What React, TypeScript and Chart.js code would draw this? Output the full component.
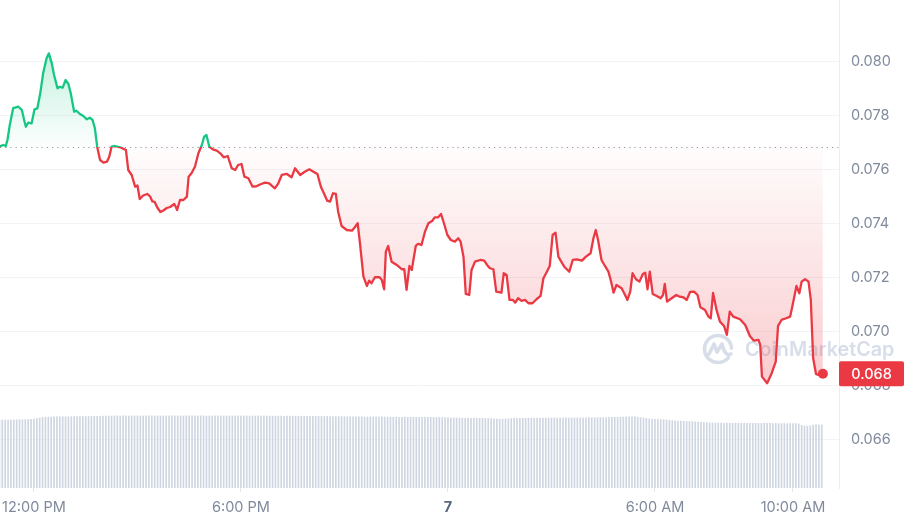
import React, { useEffect, useRef } from 'react';
import { Chart, registerables } from 'chart.js';

Chart.register(...registerables);

// Minutes since 11:00 AM (day 6) for each price sample
const P_MIN = [
  0, 7, 11, 14, 18, 24, 33, 39, 43, 46, 50, 56, 61, 66, 71, 76, 82, 86, 91, 95,
  101, 105, 110, 115, 120, 124, 130, 134, 140, 146, 152, 157, 162, 166, 170, 175, 181, 187, 191, 195,
  201, 210, 220, 224, 230, 236, 240, 244, 250, 257, 262, 266, 270, 275, 280, 285, 291, 297, 304, 307,
  309, 314, 320, 326, 329, 334, 340, 346, 352, 356, 360, 365, 371, 378, 384, 390, 397, 404, 410, 415,
  421, 426, 433, 440, 447, 453, 462, 469, 479, 485, 491, 500, 508, 514, 523, 531, 539, 546, 553, 559,
  563, 570, 575, 580, 585, 589, 595, 604, 613, 618, 623, 627, 633, 639, 643, 647, 653, 661, 665, 669,
  672, 676, 682, 691, 700, 704, 708, 713, 717, 724, 728, 734, 740, 746, 753, 757, 763, 768, 773, 779,
  785, 792, 798, 802, 807, 811, 817, 821, 827, 836, 843, 848, 853, 859, 864, 873, 877, 882, 887, 893,
  897, 902, 908, 914, 920, 927, 934, 941, 946, 952, 957, 962, 967, 972, 978, 983, 991, 997, 1004, 1013,
  1020, 1028, 1033, 1037, 1041, 1047, 1053, 1059, 1063, 1068, 1073, 1082, 1088, 1092, 1097, 1101, 1107, 1113, 1119, 1123,
  1127, 1131, 1136, 1143, 1150, 1154, 1157, 1161, 1169, 1177, 1183, 1189, 1195, 1201, 1208, 1214, 1219, 1227, 1233, 1237,
  1241, 1247, 1253, 1260, 1265, 1270, 1276, 1288, 1297, 1305, 1312, 1320, 1323, 1326, 1335, 1343, 1350, 1354, 1360, 1368,
  1375, 1379, 1386, 1391, 1395, 1401, 1407, 1411, 1415, 1420, 1424, 1432,
];

const PRICE = [
  0.07685, 0.076908, 0.076871, 0.077093, 0.077648, 0.078278, 0.078326, 0.078204, 0.077834, 0.077585,
  0.077734, 0.077711, 0.07823, 0.078267, 0.078822, 0.079563, 0.080119, 0.080304, 0.079934, 0.0795,
  0.079008, 0.079067, 0.07903, 0.079315, 0.079167, 0.078822, 0.078141, 0.078178, 0.078056, 0.077982,
  0.077859, 0.077919, 0.077834, 0.077526, 0.076845, 0.076352, 0.076252, 0.076289, 0.076474, 0.076845,
  0.076871, 0.076822, 0.076722, 0.075982, 0.075797, 0.075363, 0.075408, 0.074908, 0.075037, 0.075093,
  0.075, 0.074815, 0.074797, 0.074574, 0.074426, 0.074482, 0.074574, 0.074611, 0.074722, 0.0746,
  0.0745, 0.074871, 0.074871, 0.074993, 0.075734, 0.075859, 0.076104, 0.0766, 0.076908, 0.077215,
  0.077278, 0.076845, 0.076748, 0.076697, 0.0766, 0.076452, 0.0765, 0.076045, 0.075982, 0.076167,
  0.076204, 0.075734, 0.075674, 0.075371, 0.075378, 0.075445, 0.075511, 0.075489, 0.075304, 0.075489,
  0.075797, 0.075834, 0.075711, 0.076045, 0.075797, 0.075919, 0.076008, 0.075919, 0.075834, 0.075363,
  0.075178, 0.074845, 0.074808, 0.075119, 0.075093, 0.074437, 0.073908, 0.073759, 0.073734, 0.073859,
  0.074008, 0.073267, 0.07203, 0.071685, 0.071882, 0.071785, 0.072008, 0.072008, 0.071908, 0.071563,
  0.072956, 0.073167, 0.072585, 0.072463, 0.072304, 0.072304, 0.071537, 0.072426, 0.072278, 0.073167,
  0.073241, 0.073204, 0.073697, 0.074008, 0.074104, 0.07423, 0.07423, 0.074352, 0.074008, 0.073574,
  0.073389, 0.073326, 0.073452, 0.073326, 0.072771, 0.071389, 0.071352, 0.072278, 0.072585, 0.072648,
  0.072622, 0.072463, 0.072341, 0.072304, 0.071474, 0.071437, 0.072156, 0.072093, 0.071167, 0.071167,
  0.071067, 0.07123, 0.07113, 0.071167, 0.071045, 0.071045, 0.071193, 0.071315, 0.071971, 0.072215,
  0.072426, 0.073574, 0.073659, 0.072771, 0.072548, 0.072378, 0.072215, 0.072648, 0.072674, 0.072622,
  0.072771, 0.072897, 0.073452, 0.073759, 0.073389, 0.072648, 0.072426, 0.072215, 0.071908, 0.071437,
  0.071722, 0.0716, 0.071352, 0.071167, 0.071474, 0.072156, 0.071934, 0.071845, 0.07213, 0.072178,
  0.071563, 0.072215, 0.071389, 0.071315, 0.07123, 0.071352, 0.071759, 0.071104, 0.07123, 0.071352,
  0.071289, 0.071267, 0.071167, 0.071463, 0.071474, 0.071352, 0.070897, 0.070797, 0.070548, 0.070489,
  0.071426, 0.070797, 0.070363, 0.070204, 0.069871, 0.070734, 0.070548, 0.070452, 0.070241, 0.069834,
  0.069659, 0.069685, 0.0695, 0.068326, 0.068082, 0.068452, 0.068882, 0.070204, 0.070426, 0.070489,
  0.070548, 0.070945, 0.071685, 0.071415, 0.071845, 0.071934, 0.071845, 0.071167, 0.069019, 0.068426,
  0.068389, 0.068434,
];

// 5-minute volume bars (millions), starting at 11:00 AM
const VOL_STEP_MIN = 5;
const VOLUME = [
  4.73, 4.74, 4.73, 4.74, 4.75, 4.74, 4.75, 4.76, 4.75, 4.76, 4.77, 4.78, 4.8, 4.84, 4.88,
  4.92, 4.94, 4.95, 4.95, 4.96, 4.95, 4.96, 4.97, 4.96, 4.97, 4.97, 4.98, 4.97, 4.98, 4.98, 4.99, 4.98, 4.99, 5.0, 4.99,
  5.0, 5.01, 5.01, 5.02, 5.01, 5.02, 5.02, 5.01, 5.02, 5.03,
  5.02, 5.02, 5.03, 5.02, 5.01, 5.02, 5.02, 5.03, 5.03, 5.02,
  5.02, 5.01, 5.02, 5.02, 5.03, 5.02, 5.02, 5.02, 5.01, 5.02,
  5.03, 5.03, 5.02, 5.02, 5.02, 5.03, 5.02, 5.01, 5.02, 5.02,
  5.02, 5.03, 5.02, 5.02, 5.02, 5.01, 5.02, 5.02, 5.03, 5.02,
  5.02, 5.02, 5.01, 5.01, 5.02, 5.02, 5.01, 5.02, 5.01, 5.01,
  5.01, 5.0, 5.01, 5.01, 5.0, 5.01, 5.0, 5.0, 5.01, 5.0,
  5.0, 4.99, 5.0, 4.99, 4.99, 5.0, 4.99, 4.99, 4.98, 4.99,
  4.98,
  4.98, 4.97, 4.97, 4.98, 4.97, 4.96, 4.97, 4.96, 4.96, 4.95, 4.96, 4.95, 4.95, 4.96, 4.95, 4.95, 4.94, 4.95, 4.94, 4.94,
  4.94, 4.93, 4.94, 4.93, 4.93, 4.94, 4.93, 4.92, 4.93, 4.93, 4.92, 4.93, 4.92, 4.92, 4.93, 4.92, 4.91, 4.92, 4.91, 4.91, 4.9,
  4.89, 4.88, 4.88, 4.87, 4.87, 4.86, 4.87, 4.86, 4.86, 4.85, 4.86, 4.86, 4.85, 4.84, 4.83, 4.82, 4.81, 4.8, 4.8, 4.81,
  4.82, 4.84, 4.85, 4.86, 4.86, 4.87, 4.86, 4.87, 4.87, 4.86, 4.87, 4.87, 4.88, 4.87, 4.87, 4.88, 4.88, 4.87, 4.88, 4.88,
  4.89, 4.88, 4.88, 4.89, 4.89, 4.88, 4.89, 4.89, 4.9, 4.89, 4.9, 4.9, 4.91, 4.9, 4.91, 4.92, 4.92, 4.93, 4.93, 4.94, 4.94,
  4.95, 4.96, 4.96, 4.95, 4.93,
  4.9, 4.87, 4.84, 4.82, 4.8, 4.79, 4.78, 4.77, 4.76, 4.74, 4.72,
  4.7, 4.68, 4.67, 4.66, 4.65, 4.64, 4.63, 4.62, 4.61, 4.6,
  4.58, 4.56, 4.55, 4.54, 4.53, 4.53, 4.52, 4.52, 4.51, 4.52, 4.51, 4.51, 4.52, 4.51, 4.51, 4.5, 4.51, 4.51, 4.5, 4.51,
  4.5, 4.5, 4.51, 4.5, 4.5, 4.49, 4.5, 4.49, 4.49,
  4.49, 4.48, 4.49, 4.48, 4.48, 4.47,
  4.36, 4.32, 4.31, 4.33,
  4.39, 4.4, 4.38, 4.39,
];

const Y_TICKS = [0.066, 0.068, 0.07, 0.072, 0.074, 0.076, 0.078, 0.08];
const X_TICKS = [60, 420, 780, 1140, 1380];
const X_LABELS = ['12:00 PM', '6:00 PM', '7', '6:00 AM', '10:00 AM'];

const BASE = PRICE[0];
const GREEN = '#16c784';
const RED = '#ea3943';
const FONT = 'Inter, "Noto Sans", sans-serif';

const decorPlugin = {
  id: 'decor',
  beforeDatasetsDraw(chart: any) {
    const { ctx, chartArea, scales } = chart;
    // watermark
    ctx.save();
    const cx = chartArea.right - 121;
    const cy = chartArea.bottom - 139;
    ctx.strokeStyle = 'rgba(160,176,202,0.42)';
    ctx.lineWidth = 3.6;
    ctx.lineCap = 'round';
    ctx.lineJoin = 'round';
    ctx.beginPath();
    ctx.arc(cx, cy, 13.5, 0.22 * Math.PI, 1.98 * Math.PI, false);
    ctx.stroke();
    ctx.beginPath();
    ctx.moveTo(cx - 9, cy + 5);
    ctx.lineTo(cx - 4, cy - 5);
    ctx.lineTo(cx - 1, cy + 3);
    ctx.lineTo(cx + 4, cy - 5);
    ctx.quadraticCurveTo(cx + 7, cy + 8, cx + 13, cy + 5);
    ctx.stroke();
    ctx.fillStyle = 'rgba(160,176,202,0.42)';
    ctx.font = '600 19.8px ' + FONT;
    ctx.textAlign = 'left';
    ctx.textBaseline = 'middle';
    ctx.fillText('CoinMarketCap', cx + 27, cy + 1.5);
    ctx.restore();

    // dotted baseline (24h open)
    const y = Math.round(scales.y.getPixelForValue(BASE)) + 0.5;
    ctx.save();
    ctx.beginPath();
    ctx.setLineDash([1.2, 4]);
    ctx.strokeStyle = '#8f98ab';
    ctx.lineWidth = 1.2;
    ctx.moveTo(chartArea.left, y);
    ctx.lineTo(chartArea.right, y);
    ctx.stroke();
    ctx.restore();
  },
  afterDraw(chart: any) {
    const { ctx, chartArea } = chart;
    const meta = chart.getDatasetMeta(0);
    const pt = meta.data[meta.data.length - 1];
    if (!pt) return;
    const h = 25;
    const x0 = chartArea.right;
    const w = chart.width - x0;
    ctx.save();
    ctx.fillStyle = RED;
    ctx.beginPath();
    ctx.roundRect(x0, pt.y - h / 2, w, h, 2);
    ctx.fill();
    ctx.fillStyle = '#ffffff';
    ctx.font = '500 14.5px ' + FONT;
    ctx.textAlign = 'center';
    ctx.textBaseline = 'middle';
    ctx.fillText(PRICE[PRICE.length - 1].toFixed(3), x0 + w / 2, pt.y + 1);
    ctx.restore();
  },
};

export default function App() {
  const ref = useRef<HTMLCanvasElement | null>(null);

  useEffect(() => {
    const canvas = ref.current;
    if (!canvas) return;
    const last = PRICE.length - 1;
    const chart = new Chart(canvas, {
      type: 'line',
      data: {
        datasets: [
          {
            type: 'line',
            data: P_MIN.map((m, i) => ({ x: m, y: PRICE[i] })),
            borderColor: RED,
            borderWidth: 2.3,
            tension: 0,
            borderJoinStyle: 'round',
            borderCapStyle: 'round',
            pointRadius: (c: any) => (c.dataIndex === last ? 5 : 0),
            pointHoverRadius: 0,
            pointBackgroundColor: RED,
            pointBorderWidth: 0,
            fill: { target: { value: BASE }, above: 'rgba(22,199,132,0.1)', below: 'rgba(234,57,67,0.1)' },
            order: 1,
          } as any,
          {
            type: 'bar',
            data: VOLUME.map((v, k) => ({ x: k * VOL_STEP_MIN, y: v })),
            yAxisID: 'yv',
            backgroundColor: '#cfd6e2',
            barThickness: 1,
            grouped: false,
            order: 2,
          } as any,
        ],
      },
      options: {
        animation: false,
        responsive: false,
        events: [],
        layout: { padding: 0, autoPadding: false },
        plugins: { legend: { display: false }, tooltip: { enabled: false } },
        scales: {
          x: {
            type: 'linear',
            min: 1,
            max: 1460,
            offset: false,
            afterBuildTicks: (s: any) => {
              s.ticks = X_TICKS.map((v) => ({ value: v }));
            },
            afterFit: (s: any) => {
              s.height = 34;
              s.paddingLeft = 0;
              s.paddingRight = 0;
            },
            grid: { drawOnChartArea: false, drawTicks: true, tickLength: 4, color: '#e3e6ec', offset: false },
            border: { display: false },
            ticks: {
              autoSkip: false,
              maxRotation: 0,
              padding: 6.5,
              callback: (v: any) => X_LABELS[X_TICKS.indexOf(v)] ?? '',
              font: (c: any) => ({ family: FONT, size: 14.5, weight: c.index === 2 ? 'bold' : 'normal' }),
              color: (c: any) => (c.index === 2 ? '#58667e' : '#808a9d'),
            },
          },
          y: {
            position: 'right',
            min: 0.0642,
            max: 0.08228,
            afterBuildTicks: (s: any) => {
              s.ticks = Y_TICKS.map((v) => ({ value: v }));
            },
            afterFit: (s: any) => {
              s.width = 65;
              s.paddingTop = 0;
              s.paddingBottom = 0;
            },
            grid: { color: '#f2f3f6', drawTicks: false },
            border: { display: true, color: '#eceef2' },
            ticks: {
              padding: 12,
              callback: (v: any) => Number(v).toFixed(3),
              font: { family: FONT, size: 14.5 },
              color: '#808a9d',
            },
          },
          yv: { display: false, min: 0, max: 34 },
        },
      } as any,
      plugins: [decorPlugin],
    });

    // gradients depend on the laid-out scale
    const ctx = canvas.getContext('2d')!;
    const area = chart.chartArea;
    const ys: any = chart.scales.y;
    const baseY = ys.getPixelForValue(BASE);
    const frac = Math.min(1, Math.max(0, (baseY - area.top) / (area.bottom - area.top)));
    const stroke = ctx.createLinearGradient(0, area.top, 0, area.bottom);
    stroke.addColorStop(0, GREEN);
    stroke.addColorStop(frac, GREEN);
    stroke.addColorStop(frac, RED);
    stroke.addColorStop(1, RED);
    const topY = ys.getPixelForValue(Math.max(...PRICE));
    const botY = ys.getPixelForValue(Math.min(...PRICE));
    const gAbove = ctx.createLinearGradient(0, topY, 0, baseY);
    gAbove.addColorStop(0, 'rgba(22,199,132,0.25)');
    gAbove.addColorStop(1, 'rgba(22,199,132,0.01)');
    const gBelow = ctx.createLinearGradient(0, baseY, 0, botY);
    gBelow.addColorStop(0, 'rgba(234,57,67,0.01)');
    gBelow.addColorStop(1, 'rgba(234,57,67,0.26)');
    const ds: any = chart.data.datasets[0];
    ds.borderColor = stroke;
    ds.fill = { target: { value: BASE }, above: gAbove, below: gBelow };
    chart.update('none');

    return () => chart.destroy();
  }, []);

  return (
    <div style={{ position: 'absolute', left: 0, top: 0, width: 904, height: 522, background: '#ffffff' }}>
      <canvas ref={ref} width={904} height={522} style={{ display: 'block', width: 904, height: 522 }} />
    </div>
  );
}
